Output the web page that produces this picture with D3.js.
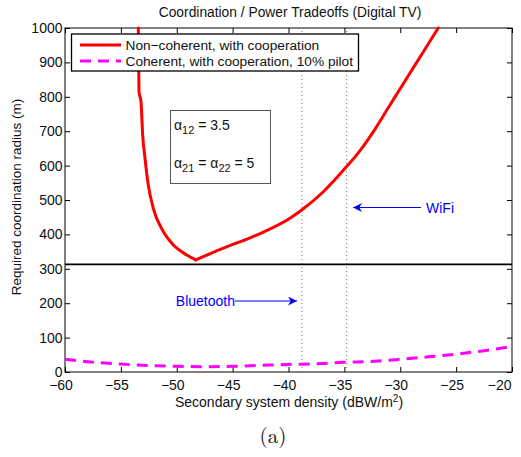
<!DOCTYPE html>
<html><head><meta charset="utf-8">
<script src="https://cdn.jsdelivr.net/npm/d3@7"></script>
<style>body{margin:0;background:#fff}svg{display:block}text{font-family:"Liberation Sans",Arial,sans-serif}</style>
</head><body>
<svg id="c" width="521" height="457"></svg>
<script>
const xTicks = [-60,-55,-50,-45,-40,-35,-30,-25,-20];
const yTicks = [0,100,200,300,400,500,600,700,800,900,1000];
const nonCohX = [-53.44,-53.38,-53.2,-53.05,-52.84,-52.55,-52.1,-51.2,-50.3,-49.1,-48.3,-45.83,-42.85,-39.87,-38.82,-36.88,-34.94,-33.9,-32.4,-30.92,-29.42,-27.93,-26.6];
const nonCohY = [1000,815,786,689,621,544,476,408,369,340,326,360,398,447,471,524,592,631,699,776,854,931,1000];
const cohX = [-60,-58,-55,-52,-50,-47,-45,-42.5,-40,-37.5,-35,-32,-30,-27.5,-25,-22.5,-20];
const cohY = [37,30,23,18,16.5,15.5,16.5,19.4,22,24,28,32,37,44,52,62,74];
const hLine = 313;
const vLines = [-38.8, -34.8];
const legendLabels = ["Non\u2212coherent, with cooperation","Coherent, with cooperation, 10% pilot"];

const svg = d3.select("#c");
const L=65,R=512,T=28,B=372;
const x = d3.scaleLinear().domain([-60,-20]).range([L,R]);
const y = d3.scaleLinear().domain([0,1000]).range([B,T]);
const fmt = d => d<0 ? "\u2212"+Math.abs(d) : String(d);

svg.append("rect").attr("x",L).attr("y",T).attr("width",R-L).attr("height",B-T).attr("fill","none").attr("stroke","#000").attr("stroke-width",1);

const gx = svg.append("g").attr("transform",`translate(0,${B})`).call(d3.axisBottom(x).tickValues(xTicks).tickSize(-5).tickFormat(fmt));
const gxt = svg.append("g").attr("transform",`translate(0,${T})`).call(d3.axisTop(x).tickValues(xTicks).tickSize(-5).tickFormat(""));
const gy = svg.append("g").attr("transform",`translate(${L},0)`).call(d3.axisLeft(y).tickValues(yTicks).tickSize(-5).tickFormat(d3.format("d")));
const gyr = svg.append("g").attr("transform",`translate(${R},0)`).call(d3.axisRight(y).tickValues(yTicks).tickSize(-5).tickFormat(""));
[gx,gxt,gy,gyr].forEach(g=>{g.select(".domain").remove();g.selectAll("line").attr("stroke","#000");});
gx.selectAll("text").attr("font-size",14).attr("fill","#111").attr("dy",null).attr("y",17.5)
  .attr("x",d=>d===-20?-1:-4.5).attr("text-anchor",d=>d===-20?"end":"middle");
gy.selectAll("text").attr("font-size",14).attr("fill","#111").attr("x",-2.5);

svg.selectAll(".vl").data(vLines).enter().append("line")
  .attr("x1",d=>x(d)).attr("x2",d=>x(d)).attr("y1",T+3).attr("y2",B)
  .attr("stroke","#777").attr("stroke-width",1).attr("stroke-dasharray","1,3");

svg.append("line").attr("x1",L).attr("x2",R).attr("y1",y(hLine)).attr("y2",y(hLine)).attr("stroke","#000").attr("stroke-width",1.6);

const line = d3.line().x(d=>x(d[0])).y(d=>y(d[1])).curve(d3.curveMonotoneX);
svg.append("path").datum(cohX.map((v,i)=>[v,cohY[i]])).attr("d",line)
  .attr("fill","none").attr("stroke","#ff00ff").attr("stroke-width",3).attr("stroke-dasharray","11,7");
const redPts = nonCohX.map((v,i)=>[v,nonCohY[i]]);
const iMin = d3.minIndex(nonCohY);
[redPts.slice(0,iMin+1), redPts.slice(iMin)].forEach(seg=>{
  svg.append("path").datum(seg).attr("d",line)
    .attr("fill","none").attr("stroke","#ff0000").attr("stroke-width",3).attr("stroke-linejoin","round").attr("stroke-linecap","round");
});

const lg = svg.append("g");
lg.append("rect").attr("x",71.5).attr("y",34).attr("width",287).attr("height",37).attr("fill","#fff").attr("stroke","#000").attr("stroke-width",1.3);
lg.append("line").attr("x1",80).attr("x2",121).attr("y1",45).attr("y2",45).attr("stroke","#ff0000").attr("stroke-width",3);
lg.append("line").attr("x1",80).attr("x2",121).attr("y1",61).attr("y2",61).attr("stroke","#ff00ff").attr("stroke-width",3).attr("stroke-dasharray","11,7");
lg.selectAll("text").data(legendLabels).enter().append("text")
  .attr("x",125.5).attr("y",(d,i)=>50+i*16).attr("font-size",13.7).attr("fill","#111").text(d=>d);

svg.append("rect").attr("x",170.5).attr("y",110.5).attr("width",100).attr("height",73).attr("fill","#fff").attr("stroke","#555").attr("stroke-width",1);
const t1 = svg.append("text").attr("x",174).attr("y",130).attr("font-size",14).attr("fill","#111");
t1.append("tspan").text("\u03b1");
t1.append("tspan").attr("font-size",11).attr("dy",4).text("12");
t1.append("tspan").attr("dy",-4).text(" = 3.5");
const t2 = svg.append("text").attr("x",174).attr("y",168).attr("font-size",14).attr("fill","#111");
t2.append("tspan").text("\u03b1");
t2.append("tspan").attr("font-size",11).attr("dy",4).text("21");
t2.append("tspan").attr("dy",-4).text(" = \u03b1");
t2.append("tspan").attr("font-size",11).attr("dy",4).text("22");
t2.append("tspan").attr("dy",-4).text(" = 5");

const defs = svg.append("defs");
defs.append("marker").attr("id","ah").attr("viewBox","0 0 10 10").attr("refX",10).attr("refY",5)
  .attr("markerWidth",11).attr("markerHeight",9).attr("markerUnits","userSpaceOnUse").attr("orient","auto")
  .append("path").attr("d","M0,0 L10,5 L0,10 L3,5 Z").attr("fill","#0000ff");
svg.append("line").attr("x1",421).attr("x2",353).attr("y1",207.5).attr("y2",207.5).attr("stroke","#0000ff").attr("stroke-width",1.2).attr("marker-end","url(#ah)");
svg.append("text").attr("x",426).attr("y",212.5).attr("font-size",14).attr("fill","#0000ff").text("WiFi");
svg.append("line").attr("x1",235).attr("x2",297).attr("y1",301).attr("y2",301).attr("stroke","#0000ff").attr("stroke-width",1.2).attr("marker-end","url(#ah)");
svg.append("text").attr("x",235).attr("y",306).attr("text-anchor","end").attr("font-size",14).attr("fill","#0000ff").text("Bluetooth");

svg.append("text").attr("x",290).attr("y",17).attr("text-anchor","middle").attr("font-size",13.8).attr("fill","#111").text("Coordination / Power Tradeoffs (Digital TV)");
const xl = svg.append("text").attr("x",289).attr("y",407).attr("text-anchor","middle").attr("font-size",14).attr("fill","#111");
xl.append("tspan").text("Secondary system density (dBW/m");
xl.append("tspan").attr("font-size",10).attr("dy",-5).text("2");
xl.append("tspan").attr("dy",5).text(")");
svg.append("text").attr("transform","translate(21,197) rotate(-90)").attr("text-anchor","middle").attr("font-size",13.5).attr("fill","#111").text("Required coordination radius (m)");
svg.append("text").attr("x",273).attr("y",443).attr("text-anchor","middle").attr("font-size",21).style("font-family","'Latin Modern Roman','CMU Serif','DejaVu Serif',serif").attr("fill","#111").text("(a)");
</script>
</body></html>
